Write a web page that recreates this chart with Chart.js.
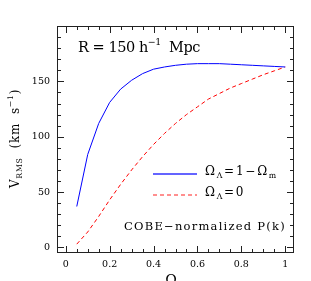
<!DOCTYPE html>
<html>
<head>
<meta charset="utf-8">
<script src="https://cdn.jsdelivr.net/npm/chart.js@4/dist/chart.umd.min.js"></script>
<style>
  html, body { margin: 0; padding: 0; background: #fff; }
  #wrap { width: 311px; height: 281px; }
</style>
</head>
<body>
<div id="wrap"><canvas id="c" width="311" height="281"></canvas></div>
<script>
// Omega_m values
const omegaM = [0.05, 0.1, 0.15, 0.2, 0.25, 0.3, 0.35, 0.4, 0.45, 0.5, 0.55, 0.6, 0.65, 0.7, 0.75, 0.8, 0.85, 0.9, 0.95, 1.0]
// V_RMS, flat with Lambda
const vFlat = [37, 84, 112, 131, 143, 151, 157, 161, 163, 164.5, 165.5, 166, 166, 166, 165.5, 165, 164.5, 164, 163.5, 163]
// V_RMS, open (Lambda = 0)
const vOpen = [3, 14, 28, 43, 57, 70, 82, 93, 103, 112, 120, 127, 134, 139, 144, 148, 152, 156, 159.5, 163]

const xTicks = [0, 0.2, 0.4, 0.6, 0.8, 1]
const yTicks = [0, 50, 100, 150]

const serif = '"DejaVu Serif", "Liberation Serif", serif'

const toPoints = (ys) => omegaM.map((x, i) => ({ x: x, y: ys[i] }))

function runFont(r, size) {
  return ((r.sub || r.sup) ? size * 0.65 : size) + 'px ' + serif
}

// width of text runs, letter spacing included
function runsWidth(ctx, runs, size, ls) {
  let w = 0
  runs.forEach((r) => {
    ctx.font = runFont(r, size)
    w += ctx.measureText(r.t).width + ls * r.t.length
  })
  return w
}

// draw text runs with sub/superscripts, stretched to a target width
function drawRuns(ctx, x, y, runs, size, target) {
  const n = runs.reduce((s, r) => s + r.t.length, 0)
  const ls = target ? (target - runsWidth(ctx, runs, size, 0)) / n : 0
  ctx.textBaseline = 'middle'
  ctx.textAlign = 'left'
  ctx.letterSpacing = ls + 'px'
  runs.forEach((r) => {
    let dy = 0
    if (r.sub) dy = size * 0.32
    if (r.sup) dy = -size * 0.38
    ctx.font = runFont(r, size)
    ctx.fillText(r.t, x, y + dy)
    x += ctx.measureText(r.t).width
  })
  ctx.letterSpacing = '0px'
  return x
}

const framePlugin = {
  id: 'frame',
  afterDraw(chart) {
    const ctx = chart.ctx
    const a = chart.chartArea
    const xs = chart.scales.x
    const ys = chart.scales.y
    ctx.save()
    ctx.strokeStyle = '#222'
    ctx.lineWidth = 1
    ctx.strokeRect(a.left + 0.5, a.top + 0.5, a.right - a.left - 1, a.bottom - a.top - 1)

    // inward ticks on all sides
    ctx.beginPath()
    for (let k = 0; k <= 20; k++) {
      const px = Math.round(xs.getPixelForValue(k * 0.05)) + 0.5
      const len = k % 4 === 0 ? 7 : 4
      ctx.moveTo(px, a.bottom); ctx.lineTo(px, a.bottom - len)
      ctx.moveTo(px, a.top); ctx.lineTo(px, a.top + len)
    }
    for (let k = 0; k <= 20; k++) {
      const py = Math.round(ys.getPixelForValue(k * 10)) + 0.5
      const len = k % 5 === 0 ? 7 : 4
      ctx.moveTo(a.left, py); ctx.lineTo(a.left + len, py)
      ctx.moveTo(a.right, py); ctx.lineTo(a.right - len, py)
    }
    ctx.stroke()

    ctx.fillStyle = '#000'
    // panel label
    drawRuns(ctx, 78, 48, [{ t: 'R = 150 h' }, { t: '\u22121', sup: true }, { t: '  Mpc' }], 14.5, 122)

    // legend
    ctx.strokeStyle = '#3030ff'
    ctx.lineWidth = 1.6
    ctx.beginPath(); ctx.moveTo(153, 174); ctx.lineTo(197, 174); ctx.stroke()
    ctx.strokeStyle = '#ff2020'
    ctx.lineWidth = 1.2
    ctx.setLineDash([4, 3])
    ctx.beginPath(); ctx.moveTo(153, 195); ctx.lineTo(197, 195); ctx.stroke()
    ctx.setLineDash([])
    drawRuns(ctx, 205, 172, [{ t: '\u03a9' }, { t: '\u039b', sub: true }, { t: '=1\u2212\u03a9' }, { t: 'm', sub: true }], 12, 73)
    drawRuns(ctx, 205, 193, [{ t: '\u03a9' }, { t: '\u039b', sub: true }, { t: '=0' }], 12, 40)
    drawRuns(ctx, 124, 227, [{ t: 'COBE\u2212normalized P(k)' }], 11.5, 162)

    // x title
    ctx.font = '14px ' + serif
    ctx.textAlign = 'center'
    ctx.textBaseline = 'top'
    ctx.fillText('\u03a9', 171, 274)

    // y title
    ctx.translate(16, 139)
    ctx.rotate(-Math.PI / 2)
    drawRuns(ctx, -49, 0, [{ t: 'V' }, { t: 'RMS', sub: true }, { t: '  (km  s' }, { t: '\u22121', sup: true }, { t: ')' }], 12, 99)
    ctx.restore()
  },
}

new Chart(document.getElementById('c'), {
  type: 'line',
  data: {
    datasets: [
      {
        data: toPoints(vFlat),
        borderColor: '#0000ff',
        borderWidth: 1,
        pointRadius: 0,
        tension: 0,
      },
      {
        data: toPoints(vOpen),
        borderColor: '#ff0000',
        borderWidth: 1,
        borderDash: [4, 3],
        pointRadius: 0,
        tension: 0,
      },
    ],
  },
  options: {
    responsive: false,
    animation: false,
    devicePixelRatio: 1,
    layout: { padding: { left: 0, right: 17, top: 26, bottom: 0 } },
    plugins: { legend: { display: false }, tooltip: { enabled: false } },
    scales: {
      x: {
        type: 'linear',
        min: -0.04,
        max: 1.04,
        grid: { display: false, drawTicks: false },
        border: { display: false },
        afterFit: (s) => { s.height = 28 },
        afterBuildTicks: (s) => { s.ticks = xTicks.map((v) => ({ value: v })) },
        ticks: {
          padding: 6,
          color: '#000',
          font: { family: serif, size: 9.5 },
          callback: (v) => String(v),
        },
      },
      y: {
        type: 'linear',
        min: -5,
        max: 200,
        grid: { display: false, drawTicks: false },
        border: { display: false },
        afterFit: (s) => { s.width = 57 },
        afterBuildTicks: (s) => { s.ticks = yTicks.map((v) => ({ value: v })) },
        ticks: {
          padding: 7,
          color: '#000',
          font: { family: serif, size: 9.5 },
          callback: (v) => String(v),
        },
      },
    },
  },
  plugins: [framePlugin],
})
</script>
</body>
</html>
